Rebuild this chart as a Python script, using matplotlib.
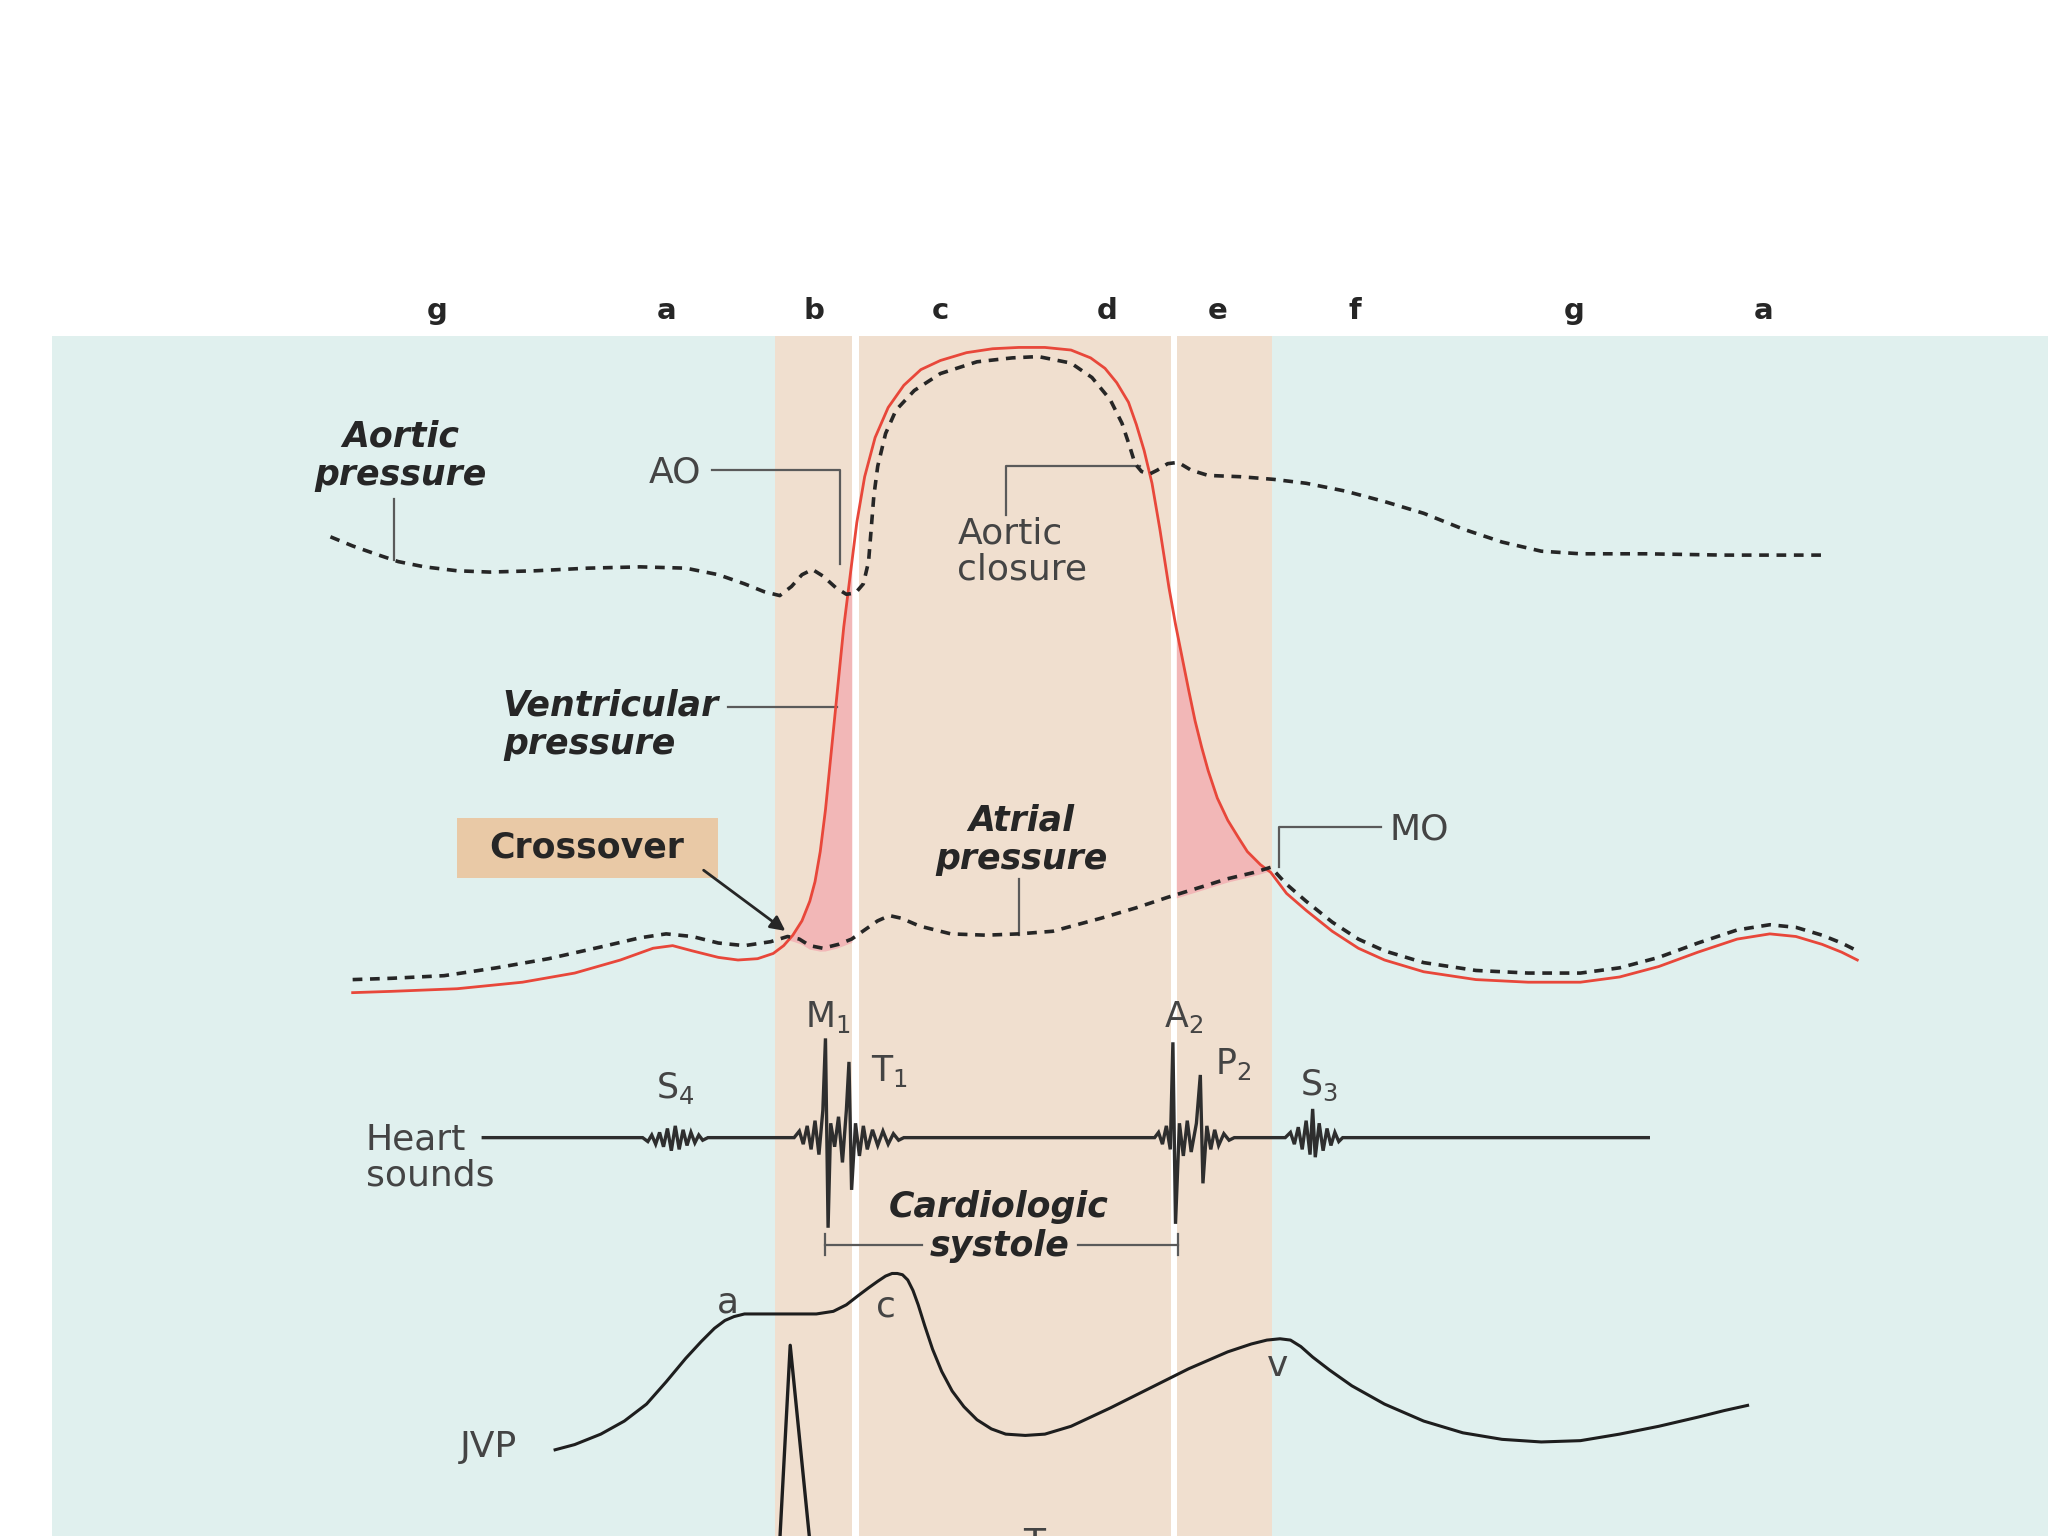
import numpy as np
import matplotlib
matplotlib.use("Agg")
import matplotlib.pyplot as plt
from matplotlib.patches import Rectangle, FancyArrowPatch

plt.rcParams['font.family'] = ['DejaVu Sans']
plt.rcParams['mathtext.fontset'] = 'dejavusans'
plt.rcParams['lines.scale_dashes'] = False

# ---------------- data (diagram coordinates: x = time, y = trace level, downwards) -------------
phase_labels = ['g', 'a', 'b', 'c', 'd', 'e', 'f', 'g', 'a']
phase_x = [335, 510, 623, 720, 848, 932, 1037, 1205, 1350]

vent_x = [270, 300, 350, 400, 440, 475, 500, 515, 530, 550, 565, 580, 592, 600, 607, 614, 620, 624,
          628, 632, 636, 641, 646, 651, 656, 662, 670, 680, 692, 705, 720, 740, 760, 780, 800, 820, 835,
          846, 855, 864, 870, 876, 882, 888, 895, 900, 905, 910, 915, 920, 925, 932, 940, 948, 955,
          965, 973, 985, 1000, 1020, 1040, 1060, 1090, 1130, 1170, 1210, 1240, 1270, 1300, 1330,
          1355, 1375, 1395, 1410, 1422]
vent_y = [760, 759, 757, 752, 745, 735, 726, 724, 728, 733, 735, 734, 730, 724, 716, 705, 690, 675,
          652, 620, 580, 530, 480, 440, 400, 365, 335, 312, 295, 283, 276, 270, 267, 266, 266, 268, 274,
          282, 293, 308, 325, 345, 370, 405, 450, 478, 503, 528, 552, 572, 590, 611, 628, 641, 652,
          662, 668, 684, 697, 713, 726, 735, 744, 750, 752, 752, 748, 740, 729, 719,
          715, 717, 723, 729, 735]

aortic_x = [253, 270, 290, 305, 325, 350, 375, 410, 450, 490, 525, 550, 570, 585, 597, 606, 614, 622,
            630, 640, 648, 655, 661, 665, 667, 669, 672, 678, 686, 700, 720, 748, 775, 795, 820, 836,
            850, 859, 865, 869, 874, 880, 886, 894, 902, 912, 925, 950, 975, 1000, 1030, 1060, 1090,
            1120, 1150, 1180, 1210, 1260, 1320, 1400]
aortic_y = [411, 418, 425, 430, 434, 437, 438, 437, 435, 434, 435, 440, 447, 453, 456, 449, 440, 436,
            441, 450, 455, 454, 447, 430, 405, 380, 357, 332, 314, 299, 286, 277, 274, 273, 278, 289,
            306, 324, 342, 355, 361, 363, 360, 355, 354, 360, 364, 365, 367, 370, 376, 384, 393,
            405, 415, 422, 424, 424, 425, 425]

atrial_x = [270, 300, 340, 380, 420, 460, 490, 510, 530, 550, 570, 590, 603, 612, 620, 630, 642, 652,
            662, 672, 681, 690, 704, 728, 755, 780, 806, 843, 870, 894, 920, 939, 960, 973, 985, 1000,
            1020, 1040, 1060, 1090, 1130, 1170, 1210, 1240, 1270, 1300, 1330, 1355, 1375, 1395, 1410,
            1422]
atrial_y = [753, 752, 750, 744, 737, 728, 721, 718, 720, 725, 727, 724, 720, 722, 727, 729, 726, 722,
            715, 708, 704, 706, 712, 718, 719, 718, 716, 706, 698, 690, 682, 676, 671, 667, 680, 693,
            709, 722, 731, 740, 746, 748, 748, 744, 736, 725, 715, 711, 713, 719, 725, 731]

sound_x = [370, 492, 496, 499, 502, 505, 508, 511, 514, 517, 520, 523, 526, 529, 532, 535, 538, 542,
           608, 612, 615, 618, 621, 624, 627, 630, 632, 634, 636, 639, 642, 645, 648, 650, 652, 655,
           658, 661, 664, 668, 672, 676, 680, 684, 688, 692,
           884, 887, 890, 893, 896, 898, 900, 903, 906, 909, 912, 916, 919, 921, 924, 927, 930, 933,
           937, 941, 945,
           984, 988, 991, 994, 997, 1000, 1003, 1005, 1007, 1010, 1013, 1016, 1019, 1022, 1025, 1028,
           1262]
sound_y = [871, 871, 874, 869, 876, 867, 878, 864, 881, 862, 880, 865, 877, 867, 875, 869, 873, 871,
           871, 866, 876, 862, 880, 858, 884, 850, 795, 940, 860, 878, 855, 890, 850, 813, 911, 860,
           885, 862, 880, 865, 877, 866, 876, 868, 873, 871,
           871, 867, 876, 862, 880, 798, 937, 860, 885, 858, 882, 860, 823, 906, 862, 880, 865, 877,
           868, 873, 871,
           871, 867, 876, 863, 880, 858, 884, 849, 886, 860, 881, 864, 877, 867, 874, 871,
           871]

jvp_x = [425, 440, 460, 478, 495, 510, 525, 537, 547, 555, 562, 570, 580, 600, 625, 638, 648, 657,
         665, 672, 678, 683, 687, 691, 695, 699, 703, 708, 714, 721, 729, 738, 748, 759, 770, 785,
         800, 820, 850, 880, 910, 940, 958, 970, 980, 988, 996, 1005, 1018, 1035, 1060, 1090, 1120,
         1150, 1180, 1210, 1240, 1270, 1300, 1320, 1338]
jvp_y = [1110, 1106, 1098, 1088, 1075, 1058, 1040, 1027, 1017, 1011, 1008, 1006, 1006, 1006, 1006,
         1004, 999, 992, 986, 981, 977, 975, 975, 976, 980, 988, 999, 1015, 1033, 1050, 1065, 1077,
         1087, 1094, 1098, 1099, 1098, 1092, 1078, 1063, 1048, 1035, 1029, 1026, 1025, 1026, 1031,
         1039, 1049, 1061, 1075, 1088, 1097, 1102, 1104, 1103, 1098, 1092, 1085, 1080, 1076]

ecg_x = [597, 605, 620]
ecg_y = [1180, 1030, 1180]

# ---------------- figure ----------------
fig = plt.figure(figsize=(20.48, 15.36), dpi=100)
ax = fig.add_axes([0, 0, 1, 1])
ax.set_xlim(0, 1568)
ax.set_ylim(1176, 0)
ax.axis('off')

TEAL = '#e0f0ee'
PEACH = '#f0dfcf'
RED = '#e8473a'
PINK = '#f2b7b7'
TXT = '#444444'
DARK = '#262626'

ax.add_patch(Rectangle((40, 257), 1568 - 40, 1176 - 257, facecolor=TEAL, edgecolor='none', zorder=0))
ax.add_patch(Rectangle((593, 257), 974 - 593, 1176 - 257, facecolor=PEACH, edgecolor='none', zorder=0.5))
for xw, w in [(652.5, 5), (896.5, 4.5)]:
    ax.add_patch(Rectangle((xw, 257), w, 1176 - 257, facecolor='white', edgecolor='none', zorder=0.6))

vx = np.array(vent_x, float); vy = np.array(vent_y, float)
atx = np.array(atrial_x, float); aty = np.array(atrial_y, float)

# pink isovolumic regions
for lo, hi in [(603, 652.5), (901, 973)]:
    m = (vx >= lo) & (vx <= hi)
    xs = np.concatenate([[lo], vx[m], [hi]])
    top = np.interp(xs, vx, vy)
    bot = np.interp(xs, atx, aty)
    ax.fill_between(xs, top, bot, facecolor=PINK, edgecolor='none', zorder=1)

# traces
ax.plot(vx, vy, color=RED, lw=2.0, zorder=3, solid_joinstyle='round')
ax.plot(aortic_x, aortic_y, color=DARK, lw=2.6, ls=(0, (7, 5.5)), zorder=4)
ax.plot(atrial_x, [y - 3 for y in atrial_y], color=DARK, lw=2.6, ls=(0, (7, 5.5)), zorder=4)
ax.plot(sound_x, sound_y, color='#2e2e2e', lw=2.4, zorder=3, solid_joinstyle='miter')
ax.plot(jvp_x, jvp_y, color='#1e1e1e', lw=2.2, zorder=3, solid_joinstyle='round')
ax.plot(ecg_x, ecg_y, color='#1e1e1e', lw=2.4, zorder=3)

# phase letters
for lab, x in zip(phase_labels, phase_x):
    ax.text(x, 238, lab, ha='center', va='center', fontsize=21, fontweight='bold', color=DARK)

LC = '#5a5a5a'
def leader(xs, ys):
    ax.plot(xs, ys, color=LC, lw=1.6, zorder=2)

# bold italic labels
bi = dict(fontsize=25, fontweight='bold', style='italic', color=DARK, linespacing=1.18)
ax.text(307, 349, 'Aortic\npressure', ha='center', va='center', **bi)
leader([302, 302], [382, 429])
ax.text(385, 555, 'Ventricular\npressure', ha='left', va='center', **bi)
leader([557, 641], [541, 541])
ax.text(782, 643, 'Atrial\npressure', ha='center', va='center', **bi)
leader([780, 780], [673, 716])
ax.text(765, 939, 'Cardiologic\nsystole', ha='center', va='center', **bi)

# regular labels
rg = dict(fontsize=26, color=TXT, linespacing=1.08)
ax.text(537, 362, 'AO', ha='right', va='center', **rg)
leader([545, 643, 643], [360, 360, 432])
ax.text(733, 422, 'Aortic\nclosure', ha='left', va='center', **rg)
leader([770, 770, 873], [394, 357, 357])
ax.text(1064, 635, 'MO', ha='left', va='center', **rg)
leader([979, 979, 1057], [664, 633, 633])
ax.text(280, 886, 'Heart\nsounds', ha='left', va='center', **rg)
ax.text(374, 1108, 'JVP', ha='center', va='center', **rg)
ax.text(557, 997, 'a', ha='center', va='center', **rg)
ax.text(678, 1000, 'c', ha='center', va='center', **rg)
ax.text(978, 1046, 'v', ha='center', va='center', **rg)
ax.text(792, 1182, 'T', ha='center', va='center', **rg)

sub = dict(fontsize=25, color=TXT)
ax.text(634, 779, r'M$_{\mathregular{1}}$', ha='center', va='center', **sub)
ax.text(681, 820, r'T$_{\mathregular{1}}$', ha='center', va='center', **sub)
ax.text(906, 779, r'A$_{\mathregular{2}}$', ha='center', va='center', **sub)
ax.text(944, 815, r'P$_{\mathregular{2}}$', ha='center', va='center', **sub)
ax.text(517, 833, r'S$_{\mathregular{4}}$', ha='center', va='center', **sub)
ax.text(1010, 831, r'S$_{\mathregular{3}}$', ha='center', va='center', **sub)

# cardiologic systole bracket
leader([632, 706], [953, 953])
leader([825, 902], [953, 953])
leader([632, 632], [945, 961])
leader([902, 902], [945, 961])

# crossover box + arrow
ax.add_patch(Rectangle((350, 626), 200, 46, facecolor='#e9c9a6', edgecolor='none', zorder=2))
ax.text(449, 649, 'Crossover', ha='center', va='center', fontsize=25, fontweight='bold', color=DARK, zorder=3)
ax.add_patch(FancyArrowPatch((537, 665), (603, 714), arrowstyle='-|>', mutation_scale=22,
                             color=DARK, lw=2.0, zorder=5))

fig.savefig('out.png', dpi=100)
